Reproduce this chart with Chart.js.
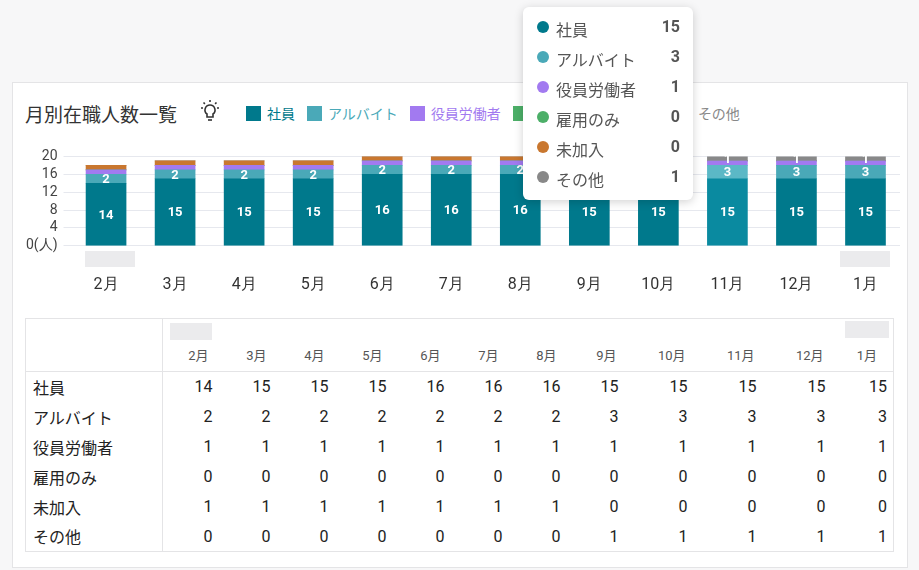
<!DOCTYPE html>
<html><head><meta charset="utf-8">
<script src="https://cdn.jsdelivr.net/npm/chart.js@4"></script>
<style>
body{margin:0;width:919px;height:570px;background:#f7f7f8;font-family:Roboto,"Noto Sans CJK JP",sans-serif;position:relative;overflow:hidden;color:#333}
.card{position:absolute;left:12px;top:82px;width:894px;height:484px;background:#fff;border:1px solid #e4e4e6}
.title{position:absolute;left:25px;top:100px;font-size:19px;color:#333}
.bulb{position:absolute;left:198px;top:100px}
.legend{position:absolute;left:246px;top:103px;display:flex;gap:12px;font-size:14px}
.legend span.sq{display:inline-block;width:15px;height:15px;vertical-align:-2px;margin-right:6px}
.chartbox{position:absolute;left:20px;top:142px;width:880px;height:175px}
.ph{position:absolute;background:#ebebed;height:16px}
table{position:absolute;left:25px;top:318px;border-collapse:collapse;font-size:16px;color:#222;table-layout:fixed;width:869px}
td,th{padding:0;height:30px;text-align:right;box-sizing:border-box}
th{font-weight:normal;font-size:13px;color:#555;height:53px;vertical-align:bottom;padding-bottom:7px}
.tt{position:absolute;left:523px;top:7px;width:170px;height:193px;background:#fff;border-radius:6px;box-shadow:0 2px 10px rgba(0,0,0,.18);z-index:5;font-size:16px;color:#555}
.tt div{position:absolute;left:0;width:170px;height:20px}
.tt .dot{position:absolute;left:14px;top:4px;width:12px;height:12px;border-radius:6px}
.tt .lb{position:absolute;left:33px;top:0}
.tt .vl{position:absolute;right:13px;top:0;font-weight:bold}
</style></head>
<body>
<div class="card"></div>
<div class="title">月別在職人数一覧</div>
<svg class="bulb" width="24" height="24" viewBox="0 0 24 24" fill="none" stroke="#333" stroke-width="1.6">
<path d="M12 5a5 5 0 0 0-3 9v3h6v-3a5 5 0 0 0-3-9z"/><path d="M10 20h4"/><path d="M12 0v2M3 8h2M19 8h2M5.5 2.5l1.4 1.4M18.5 2.5l-1.4 1.4"/></svg>
<div class="legend" id="legend"></div>
<div class="chartbox"><canvas id="c"></canvas></div>
<div class="ph" style="left:85px;top:251px;width:50px"></div>
<div class="ph" style="left:840px;top:251px;width:50px"></div>
<table id="tbl"></table>
<div class="ph" style="left:170px;top:323px;width:42px;height:17px"></div>
<div class="ph" style="left:845px;top:321px;width:44px;height:17px"></div>
<div class="tt" id="tt"></div>
<script>
const months = ['2月','3月','4月','5月','6月','7月','8月','9月','10月','11月','12月','1月'];
const seriesNames = ['社員','アルバイト','役員労働者','雇用のみ','未加入','その他'];
const seriesColors = ['#00798c','#4aa9b8','#a27af0','#4caf68','#c9772f','#888888'];
const shain   = [14,15,15,15,16,16,16,15,15,15,15,15];
const arubaito= [2,2,2,2,2,2,2,3,3,3,3,3];
const yakuin  = [1,1,1,1,1,1,1,1,1,1,1,1];
const koyou   = [0,0,0,0,0,0,0,0,0,0,0,0];
const mikanyu = [1,1,1,1,1,1,1,0,0,0,0,0];
const sonota  = [0,0,0,0,0,0,0,1,1,1,1,1];
const allSeries = [shain,arubaito,yakuin,koyou,mikanyu,sonota];
const hoverIndex = 9;
const yTicks = [0,4,8,12,16,20];

// legend
document.getElementById('legend').innerHTML = seriesNames.map((n,i)=>
  `<div style="color:${seriesColors[i]}"><span class="sq" style="background:${seriesColors[i]}"></span>${n}</div>`).join('');

// tooltip
document.getElementById('tt').innerHTML = seriesNames.map((n,i)=>
  `<div style="top:${10+i*30}px"><span class="dot" style="background:${seriesColors[i]}"></span><span class="lb">${n}</span><span class="vl">${allSeries[i][hoverIndex]}</span></div>`).join('');

// table
const colW = [137,58,58,58,58,58,58,58,58,69,69,69,60];
const bd = '1px solid #e4e4e6';
let html = `<colgroup>${colW.map(w=>`<col style="width:${w}px">`).join('')}</colgroup>`;
html += `<tr><th style="border:${bd}"></th>` + months.map((m,i)=>`<th style="padding-right:${i==11?16:i<7?12:10}px;border-top:${bd};border-bottom:${bd};${i==11?'border-right:'+bd:''}">${m}</th>`).join('') + '</tr>';
seriesNames.forEach((n,si)=>{
  html += `<tr><td style="text-align:left;padding-left:7px;border-left:${bd};border-right:${bd};${si==5?'border-bottom:'+bd:''}">${n}</td>` +
    allSeries[si].map((v,i)=>`<td style="padding-right:${i==11?6:8}px;${i==11?'border-right:'+bd+';':''}${si==5?'border-bottom:'+bd:''}">${v}</td>`).join('') + '</tr>';
});
document.getElementById('tbl').innerHTML = html;

// labels inside bars
const labelSets = [0,1,5];
const barLabels = {
  id:'barLabels',
  afterDatasetsDraw(chart){
    const ctx = chart.ctx;
    ctx.save();
    ctx.fillStyle='#fff'; ctx.font='bold 13px Roboto'; ctx.textAlign='center'; ctx.textBaseline='middle';
    labelSets.forEach(di=>{
      chart.getDatasetMeta(di).data.forEach((bar,i)=>{
        const v = chart.data.datasets[di].data[i];
        if(!v) return;
        const p = bar.getProps(['x','y','base'],true);
        ctx.fillText(v, p.x, (p.y+p.base)/2+1);
      });
    });
    ctx.restore();
  }
};

const hoverCol = ['#0a8aa0','#5bb8c6'];
new Chart(document.getElementById('c'),{
  type:'bar',
  data:{labels:months,datasets:seriesNames.map((n,i)=>({
    label:n,data:allSeries[i],
    backgroundColor:months.map((m,j)=> (j===hoverIndex && i<2) ? hoverCol[i] : seriesColors[i]),
    barThickness:40,borderWidth:0
  }))},
  options:{
    responsive:true,maintainAspectRatio:false,animation:false,
    layout:{padding:{top:11,right:0}},
    plugins:{legend:{display:false},tooltip:{enabled:false}},
    scales:{
      x:{stacked:true,grid:{display:false},border:{display:false},
         ticks:{padding:22,color:'#333',font:{size:16,family:'Roboto'}}},
      y:{stacked:true,min:0,max:20,afterBuildTicks:a=>{a.ticks=yTicks.map(v=>({value:v}));},
         grid:{color:'#e6e8ee'},border:{display:false},
         ticks:{autoSkip:false,color:'#444',font:{size:14,family:'Roboto'},padding:6,callback:v=>v===0?'0(人)':v}}
    }
  },
  plugins:[barLabels]
});
</script>
</body></html>
